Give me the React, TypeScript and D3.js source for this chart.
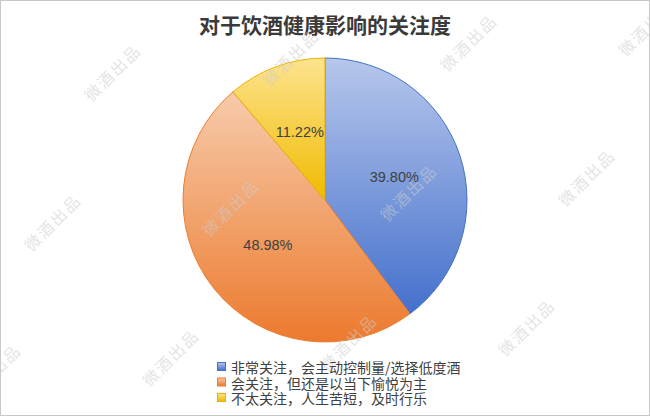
import React from "react";
import * as d3 from "d3";

const categories = [
  "非常关注，会主动控制量/选择低度酒",
  "会关注，但还是以当下愉悦为主",
  "不太关注，人生苦短，及时行乐",
];
const values = [39.8, 48.98, 11.22];
const labels = ["39.80%", "48.98%", "11.22%"];
const title = "对于饮酒健康影响的关注度";
const watermark = "微酒出品";

const gradTop = ["#b7c7ec", "#f7cbab", "#fde38f"];
const gradBottom = ["#4470cc", "#ec7a2e", "#f0bb00"];
const strokes = ["#4472c4", "#ed7d31", "#e8b400"];

const W = 650;
const H = 416;
const cx = 325;
const cy = 200;
const R = 142;

export default function App() {
  const pie = d3.pie<number>().sort(null).value((d) => d);
  const arcs = pie(values);
  const arc = d3.arc<d3.PieArcDatum<number>>().innerRadius(0).outerRadius(R);
  const labelArc = d3
    .arc<d3.PieArcDatum<number>>()
    .innerRadius(0)
    .outerRadius(R + 4);

  const marks: { x: number; y: number }[] = [];
  for (let r = 0; r < 3; r++) {
    for (let c = -1; c < 5; c++) {
      const x = 112 - 60 * r + 178 * c;
      const y = 72 + 150 * r - 15 * c;
      if (x > -40 && x < W + 40) marks.push({ x, y });
    }
  }

  const legendY = d3.scalePoint<number>().domain([0, 1, 2]).range([367, 398]);

  return (
    <svg
      width={W}
      height={H}
      style={{ position: "absolute", left: 0, top: 0, background: "#fff" }}
    >
      <defs>
        {gradTop.map((c, i) => (
          <linearGradient key={i} id={`g${i}`} x1="0" y1="0" x2="0" y2="1">
            <stop offset="0" stopColor={c} />
            <stop offset="1" stopColor={gradBottom[i]} />
          </linearGradient>
        ))}
      </defs>
      <rect x={0.5} y={0.5} width={W - 1} height={H - 1} fill="#fff" stroke="#c8c8c8" />
      <text
        x={cx}
        y={33}
        textAnchor="middle"
        fontFamily="'Noto Sans CJK SC', sans-serif"
        fontWeight="bold"
        fontSize={21}
        fill="#3a3a3a"
      >
        {title}
      </text>
      <g transform={`translate(${cx},${cy})`}>
        {arcs.map((a, i) => (
          <path
            key={i}
            d={arc(a) || ""}
            fill={`url(#g${i})`}
            stroke={strokes[i]}
            strokeWidth={1}
          />
        ))}
      </g>
      <g>
        {marks.map((m, i) => (
          <text
            key={i}
            x={m.x}
            y={m.y}
            transform={`rotate(-45 ${m.x} ${m.y})`}
            textAnchor="middle"
            dominantBaseline="central"
            fontFamily="'Noto Sans CJK SC', sans-serif"
            fontSize={16}
            letterSpacing={2}
            fill="rgb(205,205,205)"
            fillOpacity={0.55}
          >
            {watermark}
          </text>
        ))}
      </g>
      <g transform={`translate(${cx},${cy})`}>
        {arcs.map((a, i) => {
          const [x, y] = labelArc.centroid(a);
          return (
            <text
              key={i}
              x={x}
              y={y}
              textAnchor="middle"
              dominantBaseline="central"
              fontFamily="'Liberation Sans', Arial, sans-serif"
              fontSize={14.5}
              fill="#404040"
            >
              {labels[i]}
            </text>
          );
        })}
      </g>
      <g>
        {categories.map((c, i) => (
          <g key={i} transform={`translate(217,${legendY(i)})`}>
            <rect
              x={0.5}
              y={-4.5}
              width={8}
              height={8}
              fill={`url(#g${i})`}
              stroke={strokes[i]}
              strokeWidth={1}
            />
            <text
              x={14}
              y={0}
              dominantBaseline="central"
              fontFamily="'Noto Sans CJK SC', sans-serif"
              fontSize={14}
              fill="#404040"
            >
              {c}
            </text>
          </g>
        ))}
      </g>
    </svg>
  );
}
